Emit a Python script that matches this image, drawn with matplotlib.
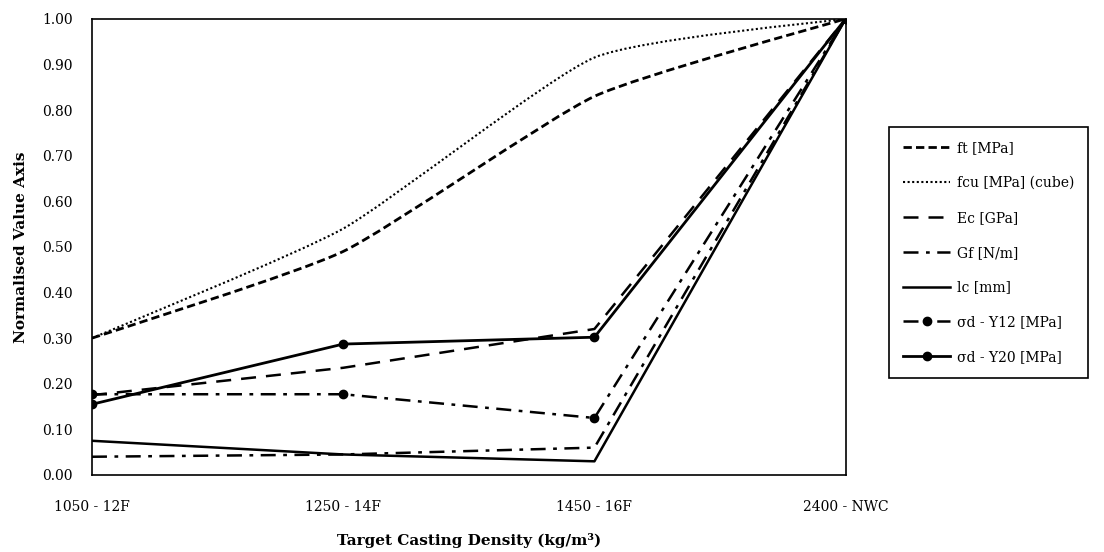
import numpy as np
import matplotlib.pyplot as plt
from matplotlib.path import Path
from matplotlib.patches import PathPatch
from matplotlib.lines import Line2D

plt.rcParams['font.family'] = ['DejaVu Serif']

categories = ['1050 - 12F', '1250 - 14F', '1450 - 16F', '2400 - NWC']
ft = [0.30, 0.49, 0.83, 1.00]
fcu = [0.30, 0.54, 0.915, 1.00]
ec = [0.175, 0.235, 0.32, 1.00]
gf = [0.04, 0.045, 0.06, 1.00]
lc = [0.075, 0.045, 0.03, 1.00]
sd_y12 = [0.177, 0.177, 0.125, 1.00]
sd_y20 = [0.155, 0.287, 0.302, 1.00]


def smooth_path(x, y, k=0.09):
    # lightly smoothed line: cubic bezier through the points
    x = np.asarray(x, float)
    y = np.asarray(y, float)
    n = len(x)
    verts = [(x[0], y[0])]
    codes = [Path.MOVETO]
    for i in range(n - 1):
        x0, y0 = (x[i - 1], y[i - 1]) if i > 0 else (x[i], y[i])
        x3, y3 = (x[i + 2], y[i + 2]) if i + 2 < n else (x[i + 1], y[i + 1])
        c1 = (x[i] + (x[i + 1] - x0) * k, y[i] + (y[i + 1] - y0) * k)
        c2 = (x[i + 1] - (x3 - x[i]) * k, y[i + 1] - (y3 - y[i]) * k)
        verts += [c1, c2, (x[i + 1], y[i + 1])]
        codes += [Path.CURVE4] * 3
    return Path(verts, codes)


fig = plt.figure(figsize=(11.04, 5.52), dpi=100)
ax = fig.add_axes([0.0833, 0.1395, 0.6827, 0.8265])
xs = np.arange(len(categories))

ax.add_patch(PathPatch(smooth_path(xs, ft), fill=False, lw=2.0, ls=(0, (3, 1.5)), color='black'))
ax.add_patch(PathPatch(smooth_path(xs, fcu), fill=False, lw=1.5, ls=(0, (1, 1.2)), color='black'))
ax.plot(xs, ec, color='black', lw=1.8, ls=(0, (6, 4)))
ax.plot(xs, gf, color='black', lw=1.8, ls=(0, (6, 3, 1.5, 3)))
ax.plot(xs, lc, color='black', lw=1.8, ls='-')
ax.plot(xs, sd_y12, color='black', lw=1.8, ls=(0, (6, 3, 1.5, 3)), marker='o', ms=6)
ax.plot(xs, sd_y20, color='black', lw=2.0, ls='-', marker='o', ms=6)

ax.set_xlim(0, 3)
ax.set_ylim(0, 1.0)
ax.set_xticks(xs)
ax.set_xticklabels(categories)
ax.set_yticks(np.arange(0, 1.01, 0.1))
ax.set_yticklabels(['%.2f' % v for v in np.arange(0, 1.01, 0.1)])
ax.tick_params(axis='both', length=0, labelsize=10)
ax.tick_params(axis='x', pad=18)
ax.tick_params(axis='y', pad=14)
for s in ax.spines.values():
    s.set_linewidth(1.2)

ax.set_ylabel('Normalised Value Axis', fontsize=11, fontweight='bold', labelpad=10)
ax.set_xlabel('Target Casting Density (kg/m\u00b3)', fontsize=11, fontweight='bold', labelpad=14)

handles = [
    Line2D([], [], color='black', lw=2.0, ls=(0, (3, 1.5))),
    Line2D([], [], color='black', lw=1.5, ls=(0, (1, 1.2))),
    Line2D([], [], color='black', lw=1.8, ls=(0, (6, 4))),
    Line2D([], [], color='black', lw=1.8, ls=(0, (6, 3, 1.5, 3))),
    Line2D([], [], color='black', lw=1.8, ls='-'),
    Line2D([], [], color='black', lw=1.8, ls=(0, (6, 3, 1.5, 3)), marker='o', ms=6),
    Line2D([], [], color='black', lw=2.0, ls='-', marker='o', ms=6),
]
labels = ['ft [MPa]', 'fcu [MPa] (cube)', 'Ec [GPa]', 'Gf [N/m]', 'lc [mm]',
          '\u03c3d - Y12 [MPa]', '\u03c3d - Y20 [MPa]']
leg = fig.legend(handles, labels, loc='upper left', bbox_to_anchor=(0.799, 0.782),
                 fontsize=10, labelspacing=1.5, handlelength=3.4, handletextpad=0.5,
                 fancybox=False, edgecolor='black', framealpha=1, borderpad=1.0)
leg.get_frame().set_linewidth(1.2)

fig.savefig('out.png', dpi=100)
